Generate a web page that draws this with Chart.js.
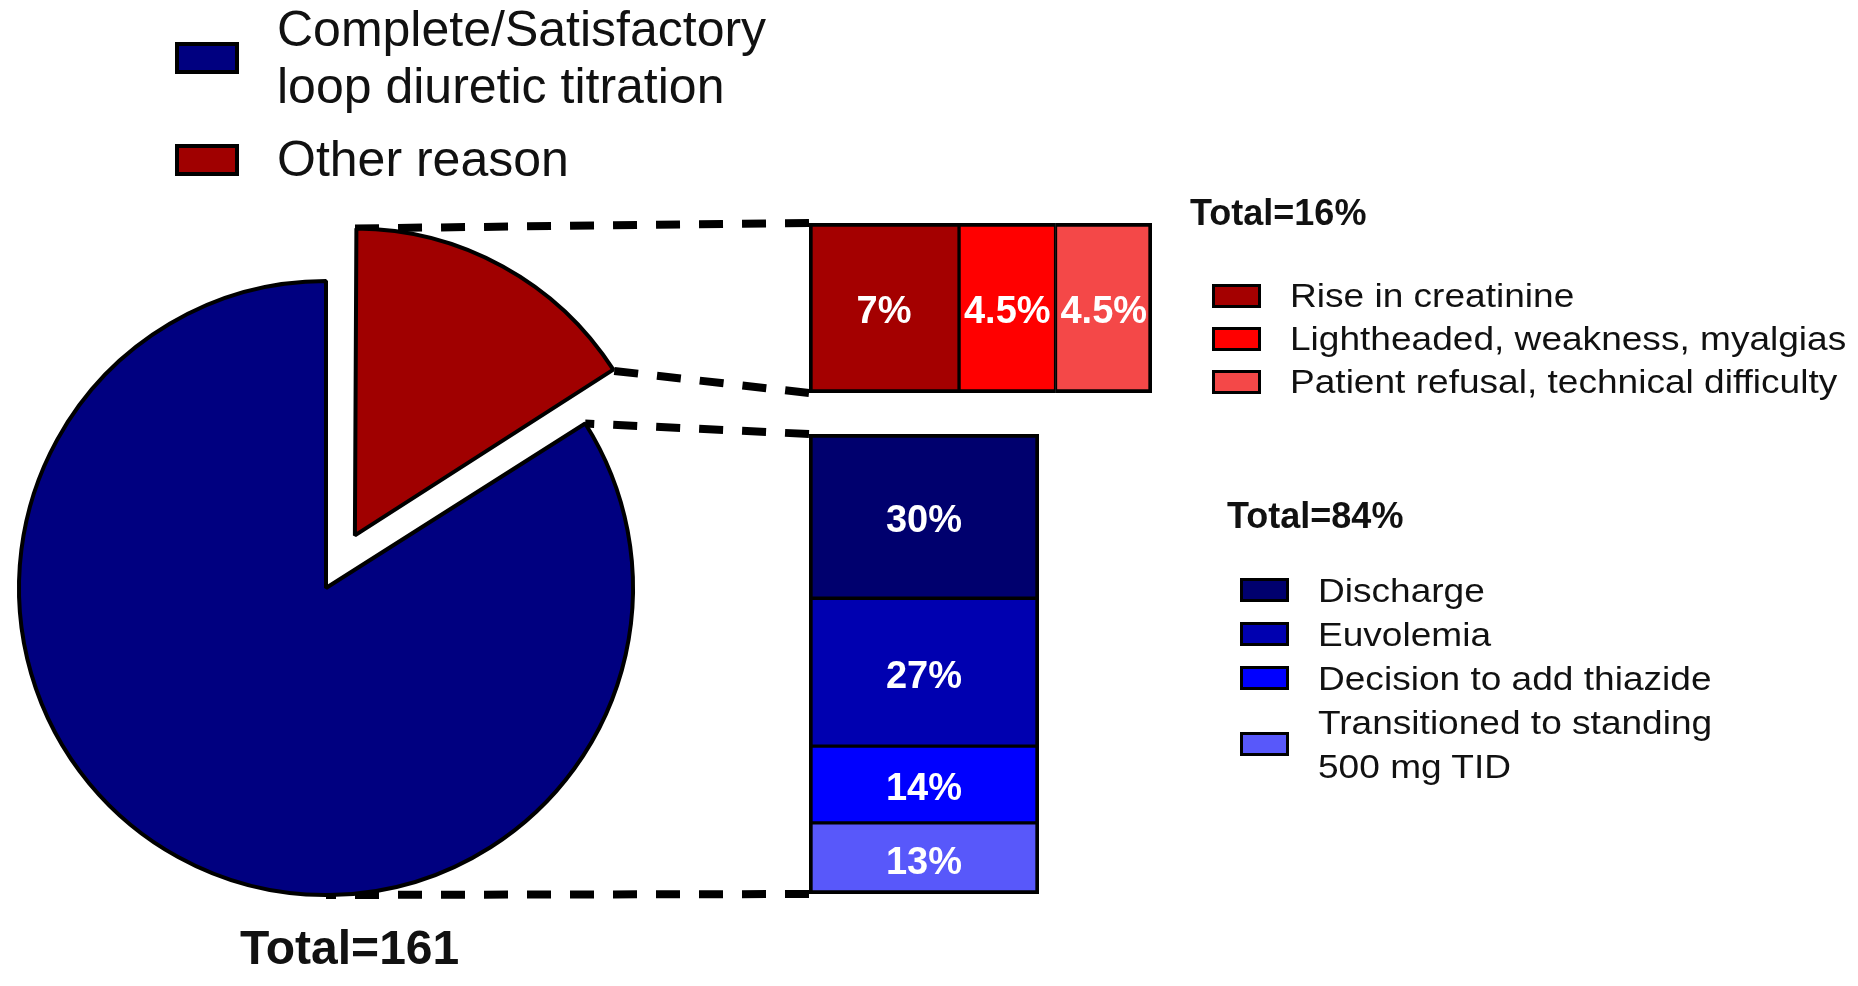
<!DOCTYPE html>
<html>
<head>
<meta charset="utf-8">
<title>Reasons for stopping loop diuretic titration</title>
<script src="https://cdn.jsdelivr.net/npm/chart.js@4.4.0/dist/chart.umd.min.js"></script>
<style>
    html, body { margin: 0; padding: 0; background: #fff; }
    body {
        position: relative;
        width: 1858px;
        height: 986px;
        overflow: hidden;
        font-family: "Liberation Sans", Arial, sans-serif;
        color: #111;
    }
    canvas { position: absolute; }
    #lines { left: 0; top: 0; }
    #pie { left: 0; top: 200px; }
    #redBar { left: 809px; top: 223px; }
    #blueBar { left: 809px; top: 434px; }

    .legend { position: absolute; }
    .legend .item { display: flex; align-items: center; }
    .legend .box { flex: none; box-sizing: border-box; border: 3px solid #000; }
    .legend .txt { white-space: pre-line; display: inline-block; }

    #pieLegend { left: 175px; top: 1px; font-size: 50px; line-height: 57px; }
    #pieLegend .box { width: 64px; height: 32px; margin-right: 38px; border-width: 4px; }
    #pieLegend .item + .item { margin-top: 16px; }

    #redLegend { left: 1212px; top: 274px; font-size: 34px; line-height: 43px; }
    #blueLegend { left: 1240px; top: 568px; font-size: 34px; line-height: 44px; }
    #redLegend .box, #blueLegend .box { width: 49px; height: 24px; margin-right: 29px; }
    #redLegend .txt, #blueLegend .txt { transform: scaleX(1.09); transform-origin: left center; }

    .total { position: absolute; font-weight: bold; line-height: 1; white-space: nowrap; }
    #redTotal { left: 1190px; top: 195px; font-size: 36px; }
    #blueTotal { left: 1227px; top: 498px; font-size: 36px; }
    #patientTotal { left: 240px; top: 924px; font-size: 48px; }
</style>
</head>
<body>
<canvas id="lines" width="1858" height="986"></canvas>
<canvas id="pie" width="652" height="776"></canvas>
<canvas id="redBar" width="343" height="170"></canvas>
<canvas id="blueBar" width="230" height="460"></canvas>

<div id="pieLegend" class="legend"></div>
<div id="redLegend" class="legend"></div>
<div id="blueLegend" class="legend"></div>
<div id="redTotal" class="total"></div>
<div id="blueTotal" class="total"></div>
<div id="patientTotal" class="total"></div>

<script>
// Pie: why titration stopped (% of patients)
const pieLabels = ['Complete/Satisfactory\nloop diuretic titration', 'Other reason'];
const pieValues = [84, 16];
const pieColors = ['#000080', '#a00000'];
const totalPatients = 161;

// Breakdown of "Other reason"
const redLabels = ['Rise in creatinine', 'Lightheaded, weakness, myalgias', 'Patient refusal, technical difficulty'];
const redValues = [7, 4.5, 4.5];
const redColors = ['#a40000', '#ff0000', '#f44848'];

// Breakdown of "Complete/Satisfactory"
const blueLabels = ['Discharge', 'Euvolemia', 'Decision to add thiazide', 'Transitioned to standing\n500 mg TID'];
const blueValues = [30, 27, 14, 13];
const blueColors = ['#00006e', '#0000b0', '#0000ff', '#5858fa'];

const sum = arr => arr.reduce((a, b) => a + b, 0);
const redTotal = sum(redValues);
const blueTotal = sum(blueValues);

Chart.defaults.font.family = '"Liberation Sans", Arial, sans-serif';

// Build a simple HTML legend from labels and colours
function buildLegend(id, labels, colors) {
    const el = document.getElementById(id);
    labels.forEach((label, i) => {
        const row = document.createElement('div');
        row.className = 'item';
        const box = document.createElement('span');
        box.className = 'box';
        box.style.background = colors[i];
        const txt = document.createElement('span');
        txt.className = 'txt';
        txt.textContent = label;
        row.append(box, txt);
        el.appendChild(row);
    });
}

buildLegend('pieLegend', pieLabels, pieColors);
buildLegend('redLegend', redLabels, redColors);
buildLegend('blueLegend', blueLabels, blueColors);
document.getElementById('redTotal').textContent = 'Total=' + redTotal + '%';
document.getElementById('blueTotal').textContent = 'Total=' + blueTotal + '%';
document.getElementById('patientTotal').textContent = 'Total=' + totalPatients;

// Chart.js grows an exploded slice a little; undo that so both slices share one radius
const keepRadius = {
    id: 'keepRadius',
    afterUpdate(chart) {
        chart.getDatasetMeta(0).data.forEach(arc => {
            const o = arc.options.offset || 0;
            if (o) {
                arc.outerRadius -= (o / 4) * (1 - Math.sin(Math.min(Math.PI, arc.circumference)));
            }
        });
    }
};

// White percentage text in the middle of each bar segment
const segmentLabels = {
    id: 'segmentLabels',
    afterDatasetsDraw(chart) {
        const ctx = chart.ctx;
        ctx.save();
        ctx.font = 'bold 38px "Liberation Sans", Arial, sans-serif';
        ctx.fillStyle = '#fff';
        ctx.textAlign = 'center';
        ctx.textBaseline = 'middle';
        chart.data.datasets.forEach((ds, i) => {
            chart.getDatasetMeta(i).data.forEach((bar, j) => {
                const p = bar.getCenterPoint();
                ctx.fillText(ds.data[j] + '%', p.x, p.y + 5);
            });
        });
        ctx.restore();
    }
};

const pieChart = new Chart(document.getElementById('pie'), {
    type: 'pie',
    data: {
        labels: pieLabels,
        datasets: [{
            data: pieValues,
            backgroundColor: pieColors,
            borderColor: '#000',
            borderWidth: 4,
            offset: [0, 240]
        }]
    },
    options: {
        responsive: false,
        animation: false,
        radius: 307,
        // start the blue slice where the red one ends, so red sits right of 12 o'clock
        rotation: pieValues[1] / sum(pieValues) * 360,
        layout: { padding: 0 },
        plugins: { legend: { display: false }, tooltip: { enabled: false } }
    },
    plugins: [keepRadius]
});

const redChart = new Chart(document.getElementById('redBar'), {
    type: 'bar',
    data: {
        labels: ['Other reason'],
        datasets: redLabels.map((label, i) => ({
            label: label,
            data: [redValues[i]],
            backgroundColor: redColors[i],
            borderColor: '#000',
            borderWidth: { top: 4, bottom: 4, left: i === 0 ? 4 : 2, right: i === redValues.length - 1 ? 4 : 2 },
            borderSkipped: false,
            barPercentage: 1,
            categoryPercentage: 1
        }))
    },
    options: {
        indexAxis: 'y',
        responsive: false,
        animation: false,
        layout: { padding: 0 },
        scales: {
            x: { stacked: true, min: 0, max: redTotal, display: false },
            y: { stacked: true, display: false }
        },
        plugins: { legend: { display: false }, tooltip: { enabled: false } }
    },
    plugins: [segmentLabels]
});

const blueChart = new Chart(document.getElementById('blueBar'), {
    type: 'bar',
    data: {
        labels: ['Complete/Satisfactory'],
        datasets: blueLabels.map((label, i) => ({
            label: label,
            data: [blueValues[i]],
            backgroundColor: blueColors[i],
            borderColor: '#000',
            borderWidth: { left: 4, right: 4, top: i === 0 ? 4 : 2, bottom: i === blueValues.length - 1 ? 4 : 2 },
            borderSkipped: false,
            barPercentage: 1,
            categoryPercentage: 1
        }))
    },
    options: {
        responsive: false,
        animation: false,
        layout: { padding: 0 },
        scales: {
            x: { stacked: true, display: false },
            y: { stacked: true, min: 0, max: blueTotal, reverse: true, display: false }
        },
        plugins: { legend: { display: false }, tooltip: { enabled: false } }
    },
    plugins: [segmentLabels]
});

// Dashed lines from the pie slices to the two breakdown bars
function drawConnectors() {
    const ctx = document.getElementById('lines').getContext('2d');
    const pc = pieChart.canvas;
    const arcs = pieChart.getDatasetMeta(0).data;

    function arcPoint(arc, angle) {
        const o = (arc.options.offset || 0) / 4;
        const half = (arc.startAngle + arc.endAngle) / 2;
        const r = arc.outerRadius + o * (1 - Math.sin(Math.min(Math.PI, arc.circumference)));
        return {
            x: pc.offsetLeft + arc.x + Math.cos(half) * o + Math.cos(angle) * r,
            y: pc.offsetTop + arc.y + Math.sin(half) * o + Math.sin(angle) * r
        };
    }

    const rc = redChart.canvas;
    const redBar = redChart.getDatasetMeta(0).data[0];
    const redTop = { x: rc.offsetLeft + redBar.base, y: rc.offsetTop + redBar.y - redBar.height / 2 };
    const redBottom = { x: rc.offsetLeft + redBar.base, y: rc.offsetTop + redBar.y + redBar.height / 2 };

    const bc = blueChart.canvas;
    const firstBlue = blueChart.getDatasetMeta(0).data[0];
    const lastBlue = blueChart.getDatasetMeta(blueValues.length - 1).data[0];
    const blueTop = { x: bc.offsetLeft + firstBlue.x - firstBlue.width / 2, y: bc.offsetTop + firstBlue.base };
    const blueBottom = { x: bc.offsetLeft + lastBlue.x - lastBlue.width / 2, y: bc.offsetTop + lastBlue.y };

    const blueArc = arcs[0], redArc = arcs[1];
    const pairs = [
        [redTop, arcPoint(redArc, redArc.startAngle)],
        [redBottom, arcPoint(redArc, redArc.endAngle)],
        [blueTop, arcPoint(blueArc, blueArc.startAngle)],
        [blueBottom, arcPoint(blueArc, Math.PI / 2)]
    ];

    ctx.save();
    ctx.strokeStyle = '#000';
    ctx.lineWidth = 8;
    ctx.setLineDash([24, 19]);
    pairs.forEach(([a, b]) => {
        ctx.beginPath();
        ctx.moveTo(a.x, a.y);
        ctx.lineTo(b.x, b.y);
        ctx.stroke();
    });
    ctx.restore();
}

drawConnectors();
</script>
</body>
</html>
